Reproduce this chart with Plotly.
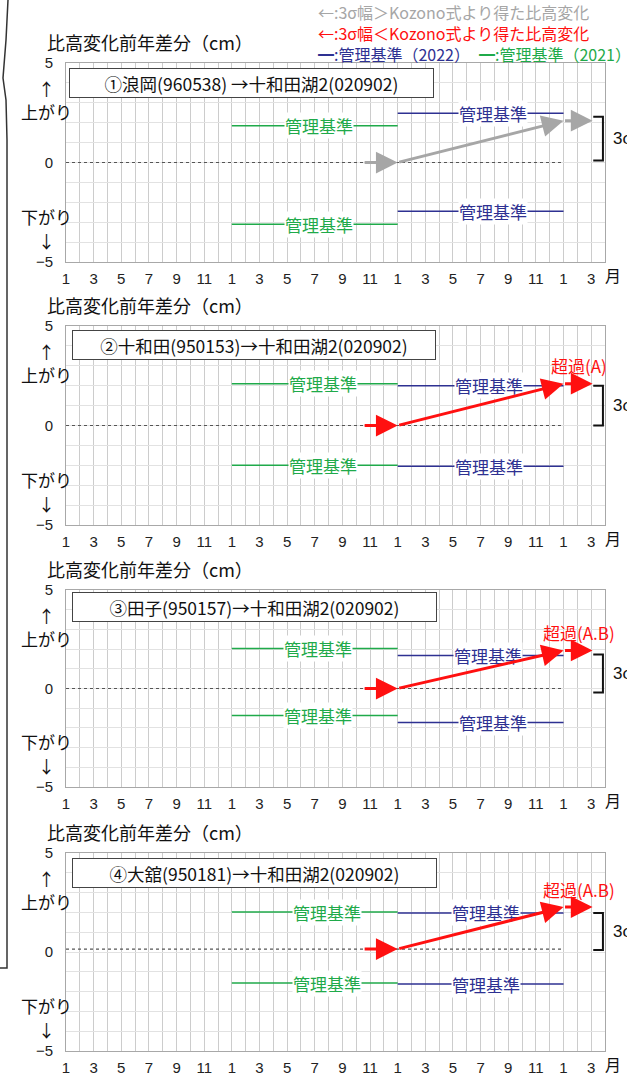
import plotly.graph_objects as go

W, H = 627, 1075

# ---- data -------------------------------------------------------------
month_labels = ["1", "3", "5", "7", "9", "11"] * 3 + ["1", "3"]
stations = [
    "①浪岡(960538) →十和田湖2(020902)",
    "②十和田(950153)→十和田湖2(020902)",
    "③田子(950157)→十和田湖2(020902)",
    "④大舘(950181)→十和田湖2(020902)",
]
crit2021_upper = [1.85, 2.10, 2.03, 2.02]
crit2021_lower = [-3.10, -2.00, -1.37, -1.57]
crit2022_upper = [2.48, 2.00, 1.68, 1.97]
crit2022_lower = [-2.45, -2.05, -1.73, -1.62]
baseline = [0.0, 0.0, 0.0, 0.15]
change_end = [2.10, 2.10, 1.93, 2.27]
exceeds = [False, True, True, True]
exceed_text = ["", "超過(A)", "超過(A.B)", "超過(A.B)"]
sigma_top = [2.30, 2.00, 1.73, 1.97]
sigma_bottom = [0.10, 0.00, -0.20, 0.10]

# month index (0 = January of the first year)
t_2021 = [12, 24]
t_2022 = [24, 36]
t_prev = 21.5
t_now = 24
t_end = 36
t_ext = 38.1

# ---- styling / layout ------------------------------------------------
GREEN = "#1faa4a"
BLUE = "#2e3192"
RED = "#ff1010"
GRAY = "#a6a6a6"
JP = "Noto Sans CJK JP"
NUM = "Liberation Sans"

panel_px = [(63, 262), (326, 525), (590, 787), (853, 1051)]
x_left, x_right = 66, 605
box_px = [(69, 434, 68, 98), (72, 436, 330, 360), (72, 437, 592, 622), (72, 437, 858, 888)]
green_label_t = [18.3, 18.6, 18.2, 18.9]
blue_label_t = [30.9, 30.6, 30.5, 30.4]
blue_label_t_low = [30.9, 30.6, 30.9, 30.4]


def px(x):
    return x / W


def py(y):
    return 1 - y / H


def text_ann(x, y, text, font, xref="paper", yref="paper", xanchor="center", **kw):
    d = dict(x=x, y=y, xref=xref, yref=yref, text=text, showarrow=False,
             xanchor=xanchor, yanchor="middle", font=font)
    d.update(kw)
    return d


fig = go.Figure()
annotations = []
shapes = []
layout = {}

xtickvals = list(range(0, 40))
xticktext = [month_labels[i // 2] if i % 2 == 0 and i // 2 < len(month_labels) else "" for i in xtickvals]
ytickvals = list(range(-5, 6))
yticktext = ["−5" if v == -5 else ("0" if v == 0 else ("5" if v == 5 else "")) for v in ytickvals]

for i in range(4):
    n = "" if i == 0 else str(i + 1)
    xa, ya = "x" + n, "y" + n
    top, bot = panel_px[i]

    layout["xaxis" + n] = dict(
        domain=[px(x_left), px(x_right)], anchor=ya, range=[0, 39],
        tickmode="array", tickvals=xtickvals, ticktext=xticktext,
        showgrid=True, gridcolor="#cccccc", gridwidth=1,
        showline=True, mirror=True, linecolor="#a8a8a8", linewidth=1,
        zeroline=False, ticks="", tickfont=dict(family=NUM, size=15, color="#222"),
        ticklabelstandoff=3, automargin=False, fixedrange=True,
    )
    layout["yaxis" + n] = dict(
        domain=[py(bot), py(top)], anchor=xa, range=[-5, 5],
        tickmode="array", tickvals=ytickvals, ticktext=yticktext,
        showgrid=True, gridcolor="#e2e2e2", gridwidth=1,
        showline=True, mirror=True, linecolor="#a8a8a8", linewidth=1,
        zeroline=False, ticks="", tickfont=dict(family=NUM, size=15, color="#222"),
        ticklabelstandoff=9, automargin=False, fixedrange=True,
    )

    # dotted reference line
    fig.add_trace(go.Scatter(x=[0, t_end], y=[baseline[i]] * 2, mode="lines",
                             line=dict(color="#555", width=1.2, dash="dot"),
                             xaxis=xa, yaxis=ya, hoverinfo="skip", showlegend=False))
    # management criteria lines
    for vals, ts, col in [(crit2021_upper, t_2021, GREEN), (crit2021_lower, t_2021, GREEN),
                          (crit2022_upper, t_2022, BLUE), (crit2022_lower, t_2022, BLUE)]:
        fig.add_trace(go.Scatter(x=ts, y=[vals[i]] * 2, mode="lines",
                                 line=dict(color=col, width=1.5),
                                 xaxis=xa, yaxis=ya, hoverinfo="skip", showlegend=False))
    for vals, tl, col in [(crit2021_upper, green_label_t, GREEN), (crit2021_lower, green_label_t, GREEN),
                          (crit2022_upper, blue_label_t, BLUE), (crit2022_lower, blue_label_t_low, BLUE)]:
        annotations.append(text_ann(tl[i], vals[i], "管理基準", dict(family=JP, size=17, color=col),
                                    xref=xa, yref=ya, bgcolor="white", borderpad=0))

    # change arrows
    col = RED if exceeds[i] else GRAY
    segs = [(t_prev, baseline[i], t_now, baseline[i]),
            (t_now, baseline[i], t_end, change_end[i]),
            (t_end, change_end[i], t_ext, change_end[i])]
    for (x0, y0, x1, y1) in segs:
        annotations.append(dict(x=x1, y=y1, ax=x0, ay=y0, xref=xa, yref=ya, axref=xa, ayref=ya,
                                text="", showarrow=True, arrowhead=2, arrowsize=1.45,
                                arrowwidth=3, arrowcolor=col, standoff=0, startstandoff=0))
    if exceeds[i]:
        annotations.append(text_ann(37.1, change_end[i], exceed_text[i],
                                    dict(family=JP, size=17, color=RED),
                                    xref=xa, yref=ya, yshift=18))

    # 3-sigma bracket
    shapes.append(dict(type="path", xref=xa, yref=ya,
                       path=f"M 38.15 {sigma_top[i]} L 38.85 {sigma_top[i]} L 38.85 {sigma_bottom[i]} L 38.15 {sigma_bottom[i]}",
                       line=dict(color="#111", width=2)))
    annotations.append(text_ann(px(611), (sigma_top[i] + sigma_bottom[i]) / 2, "3σ",
                                dict(family=NUM, size=17, color="#111"), yref=ya, xanchor="left"))

    # station box
    bx0, bx1, by0, by1 = box_px[i]
    annotations.append(text_ann(px((bx0 + bx1) / 2), py((by0 + by1) / 2), stations[i],
                                dict(family=JP, size=17.5, color="#111"),
                                width=bx1 - bx0 - 2, height=by1 - by0 - 2,
                                bgcolor="white", bordercolor="#444", borderwidth=1, borderpad=0))

    # axis captions
    annotations.append(text_ann(px(45), py(top - 21), "比高変化前年差分（cm）",
                                dict(family=JP, size=18, color="#111"), xanchor="left"))
    for txt, yv in [("↑", 3.7), ("上がり", 2.55), ("下がり", -2.7), ("↓", -3.9)]:
        annotations.append(text_ann(px(47), yv, txt, dict(family=JP, size=17, color="#111"), yref=ya))
    annotations.append(text_ann(px(603), py(bot + 13), "月",
                                dict(family=JP, size=16, color="#111"), xanchor="left"))

# legend block at the top
annotations += [
    text_ann(px(316), py(12), "←:3σ幅＞Kozono式より得た比高変化",
             dict(family=JP, size=16, color=GRAY), xanchor="left"),
    text_ann(px(316), py(33), "←:3σ幅＜Kozono式より得た比高変化",
             dict(family=JP, size=16, color=RED), xanchor="left"),
    text_ann(px(316), py(54), "━:管理基準（2022）",
             dict(family=JP, size=16, color=BLUE), xanchor="left"),
    text_ann(px(477), py(54), "━:管理基準（2021）",
             dict(family=JP, size=16, color=GREEN), xanchor="left"),
]

# frame line along the left edge
shapes.append(dict(type="path", xref="paper", yref="paper",
                   path=f"M {px(8)} {py(0)} L {px(6)} {py(40)} L {px(3)} {py(78)} L {px(6)} {py(100)} "
                        f"L {px(7)} {py(140)} L {px(7)} {py(968)} L {px(0)} {py(968)}",
                   line=dict(color="#333", width=1.5)))

fig.update_layout(
    width=W, height=H, margin=dict(l=0, r=0, t=0, b=0, autoexpand=False),
    paper_bgcolor="white", plot_bgcolor="white", showlegend=False,
    annotations=annotations, shapes=shapes, **layout,
)

fig.write_html("out.html")
